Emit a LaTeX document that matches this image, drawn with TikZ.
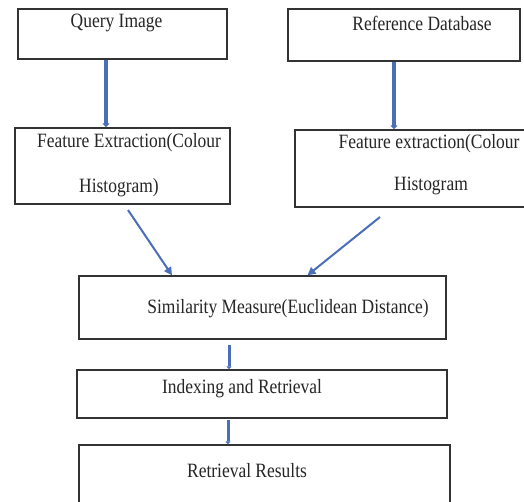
\documentclass[tikz,border=0pt]{standalone}
\usepackage{fontspec}
\setmainfont{Liberation Serif}[FakeStretch=0.86]
\usetikzlibrary{arrows.meta}
\definecolor{flowblue}{HTML}{4A6FB8}
\tikzset{
  box/.style={draw=black!80, line width=1.4pt, rectangle, inner sep=0pt},
  txt/.style={inner sep=0pt, font=\fontsize{20.3}{24}\selectfont, text=black!85},
  bigarr/.style={draw=flowblue, line width=4.8pt, -{Triangle[width=7pt,length=4pt]}},
  arr/.style={draw=flowblue, line width=2pt, -{Triangle[width=8pt,length=8pt]}},
  smallarr/.style={draw=flowblue, line width=3pt, -{Triangle[width=5pt,length=3pt]}}
}

\begin{document}
\begin{tikzpicture}[x=1pt,y=-1pt]
  \useasboundingbox[fill=white] (0,0) rectangle (524,501);
  \clip (0,0) rectangle (524,501);
  % boxes
  \node[box, minimum width=209pt, minimum height=50pt] (query) at (122.5,34) {};
  \node[box, minimum width=232pt, minimum height=52pt] (refdb) at (404,35) {};
  \node[box, minimum width=215pt, minimum height=76pt] (fe1) at (122.5,166) {};
  \node[box, minimum width=240pt, minimum height=77pt] (fe2) at (415,168.5) {};
  \node[box, minimum width=367pt, minimum height=63pt] (sim) at (262.5,307.5) {};
  \node[box, minimum width=370pt, minimum height=48pt] (idx) at (262,394) {};
  \node[box, minimum width=371pt, minimum height=80pt] (res) at (264.5,485) {};
  % texts
  \node[txt] (queryT) at (116.5,23) {Query Image};
  \node[txt] (refdbT) at (422,23) {Reference Database};
  \node[txt] (fe1a) at (129,143) {Feature Extraction(Colour};
  \node[txt] (fe1b) at (119,188) {Histogram)};
  \node[txt] (fe2a) at (429,144) {Feature extraction(Colour};
  \node[txt] (fe2b) at (431,186) {Histogram};
  \node[txt] (simT) at (288,309) {Similarity Measure(Euclidean Distance)};
  \node[txt] (idxT) at (242,389) {Indexing and Retrieval};
  \node[txt] (resT) at (247,471) {Retrieval Results};
  % connectors
  \coordinate (s1) at (128,210);
  \coordinate (s2) at (380,217);
  \coordinate (s3) at (229,345);
  \coordinate (s4) at (228,420);
  \draw[bigarr] ([xshift=-16.5pt]query.south) -- ([xshift=-16.5pt]query.south |- fe1.north);
  \draw[bigarr] ([xshift=-10pt]refdb.south) -- ([xshift=-10pt]refdb.south |- fe2.north);
  \draw[arr] (s1) -- ([xshift=-90.5pt]sim.north);
  \draw[arr] (s2) -- ([xshift=45pt]sim.north);
  \draw[smallarr] (s3) -- (s3 |- idx.north);
  \draw[smallarr] (s4) -- (s4 |- res.north);
\end{tikzpicture}
\end{document}
